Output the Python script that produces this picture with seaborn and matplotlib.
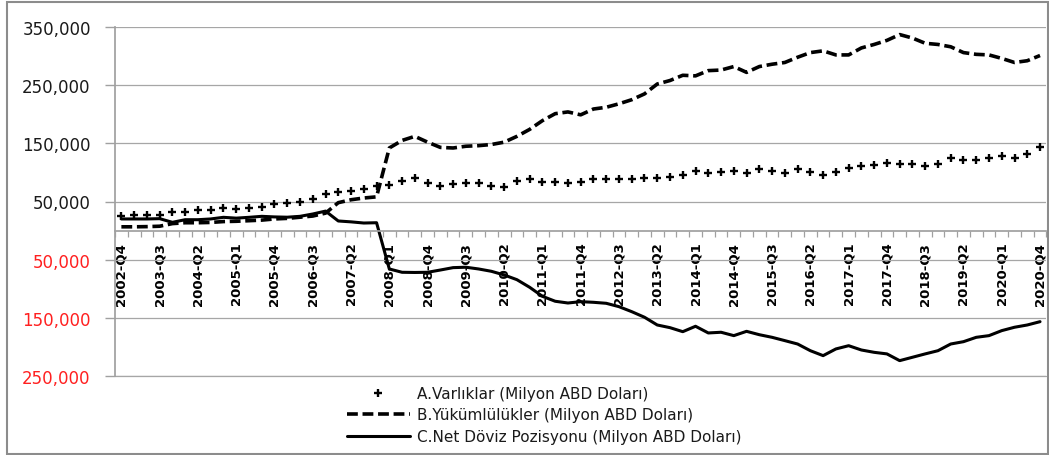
import numpy as np
import pandas as pd
import seaborn as sns
import matplotlib.pyplot as plt
import matplotlib.patches as patches
from matplotlib.ticker import FuncFormatter

# Quarters 2002-Q4 .. 2020-Q4
quarters = ["2002-Q4"] + [f"{y}-Q{q}" for y in range(2003, 2021) for q in range(1, 5)]

# Values in million USD
assets = [25600, 26000, 26000, 27000, 31500, 32500, 34900, 34900, 38800, 37000, 38800, 40000,
          45700, 47400, 48600, 54300, 62400, 65800, 68000, 71500, 76500, 79000, 84700, 89900,
          81800, 76200, 80000, 81800, 81300, 77200, 75500, 84700, 88000, 84000, 83000, 81500,
          83000, 88200, 88200, 88700, 89200, 89900, 89900, 91600, 95600, 102000, 99000, 101300,
          103000, 99000, 105900, 103000, 99000, 105900, 101300, 96100, 100200, 107000, 111600, 112800,
          116200, 114500, 114500, 110500, 114500, 124300, 121900, 121900, 124300, 128800, 124300, 131700, 143200]

liabilities = [6500, 6500, 6800, 7500, 12000, 13500, 13500, 14000, 15500, 16000, 17000, 18000,
               20000, 21000, 23000, 25000, 30000, 48000, 53000, 56000, 58000, 142000, 155000, 162000,
               152000, 143000, 142000, 145000, 146000, 148000, 152000, 162000, 174000, 189000, 201000, 204000,
               199000, 209000, 212000, 218000, 225000, 235000, 252000, 258000, 267000, 266000, 275000, 276000,
               282000, 272000, 282000, 286000, 289000, 298000, 306000, 309000, 302000, 302000, 314000, 320000,
               327000, 337000, 331000, 322000, 320000, 316000, 306000, 303000, 302000, 296000, 289000, 292000, 301000]

net_position = [20000, 20000, 20000, 20500, 14200, 18700, 18700, 20000, 22800, 21400, 22800, 24500,
                23500, 23000, 24500, 28500, 33500, 16500, 15000, 13000, 13500, -66000, -71700, -72000,
                -71700, -67800, -63700, -63000, -66000, -70000, -76300, -84400, -97500, -113000, -121500, -124500,
                -122200, -123300, -125000, -130800, -139400, -149000, -162300, -166900, -173800, -164500, -176000, -174800,
                -180600, -173200, -179000, -183500, -189200, -195000, -206500, -215000, -203500, -197900, -205300, -209300,
                -212000, -223600, -217800, -212000, -206500, -195000, -191000, -183500, -180600, -172000, -166200, -162300, -156600]

labels = ["A.Varlıklar (Milyon ABD Doları)",
          "B.Yükümlülükler (Milyon ABD Doları)",
          "C.Net Döviz Pozisyonu (Milyon ABD Doları)"]

df = pd.DataFrame({"idx": range(len(quarters)), "Quarter": quarters,
                   "A": assets, "B": liabilities, "C": net_position})

sns.set_theme(style="white")
plt.rcParams['font.family'] = ['DejaVu Sans']

W, H = 1049, 456
fig = plt.figure(figsize=(W / 100, H / 100), dpi=100)
ax = fig.add_axes([115 / W, 1 - 377 / H, (1046.4 - 115) / W, (377 - 28) / H])

sns.lineplot(data=df, x="idx", y="A", ax=ax, color="black", linestyle="", marker="+",
             markersize=6, markeredgewidth=1.7, markeredgecolor="black", label=labels[0])
sns.lineplot(data=df, x="idx", y="B", ax=ax, color="black", linewidth=2.6,
             linestyle=(0, (3.0, 1.3)), label=labels[1])
sns.lineplot(data=df, x="idx", y="C", ax=ax, color="black", linewidth=2.2, label=labels[2])

# axes
ax.set_xlim(-0.5, len(quarters) - 0.5)
ax.set_ylim(-250000, 350000)
yt = np.arange(-250000, 350001, 100000)
ax.set_yticks(yt)
ax.yaxis.set_major_formatter(FuncFormatter(lambda v, p: f"{abs(v):,.0f}"))
ax.tick_params(axis="y", length=7, width=1, color="#a0a0a0", pad=10.5, labelsize=12, left=True)
for lbl, v in zip(ax.get_yticklabels(), yt):
    lbl.set_color("#ff2020" if v < 0 else "#1a1a1a")

ax.grid(axis="y", color="#a6a6a6", linewidth=0.9)
ax.axhline(-250000, color="#a6a6a6", linewidth=0.9, clip_on=False, zorder=0.5)
ax.set_axisbelow(True)
for s in ["top", "right"]:
    ax.spines[s].set_visible(False)
ax.spines["left"].set_color("#a0a0a0")
ax.spines["bottom"].set_color("#a0a0a0")
ax.spines["bottom"].set_position(("data", 0))

ax.set_xticks(range(0, len(quarters), 3))
ax.set_xticklabels(quarters[::3], rotation=90, fontsize=9.5, fontweight="bold", color="black")
ax.set_xticks(np.arange(-0.5, len(quarters), 1), minor=True)
ax.tick_params(axis="x", which="major", length=0, pad=8, bottom=True)
ax.tick_params(axis="x", which="minor", length=4, width=0.9, color="#a0a0a0", direction="out", bottom=True)
ax.set_xlabel("")
ax.set_ylabel("")

handles, labs = ax.get_legend_handles_labels()
leg = ax.legend(handles, labs, loc="center left", bbox_to_anchor=(347 / W, 1 - 416 / H),
                bbox_transform=fig.transFigure, frameon=False, fontsize=11,
                handlelength=4.1, handletextpad=0.45, labelspacing=0.42,
                borderpad=0, borderaxespad=0)
for t in leg.get_texts():
    t.set_color("#1a1a1a")

# outer chart border
fig.add_artist(patches.Rectangle((7 / W, 1 - 455 / H), (1047.5 - 7) / W, (455 - 3) / H,
                                 transform=fig.transFigure, fill=False,
                                 edgecolor="#8c8c8c", linewidth=1.5))

fig.savefig("out.png", dpi=100)
